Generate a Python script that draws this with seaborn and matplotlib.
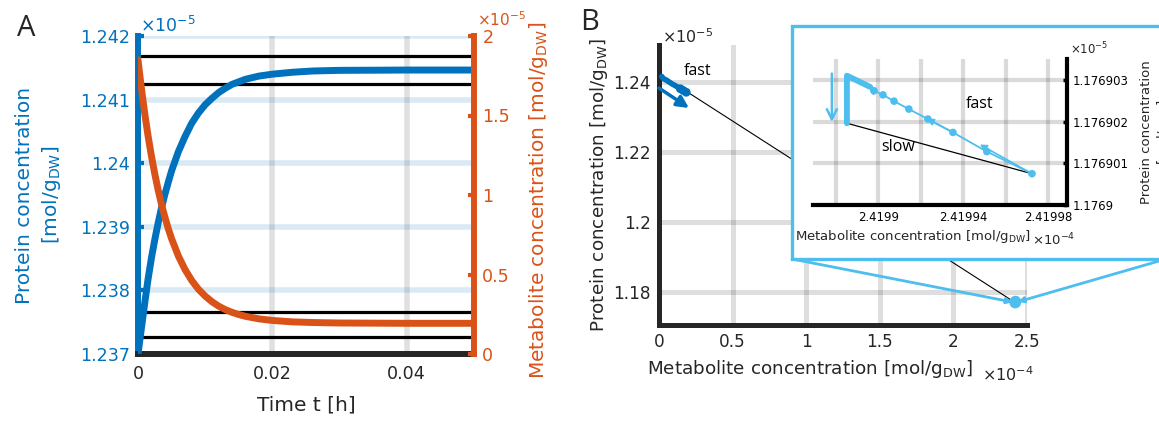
import matplotlib
matplotlib.use("Agg")
import matplotlib.pyplot as plt
import seaborn as sns
from matplotlib.patches import Rectangle, ConnectionPatch

sns.set_theme(style="white")
plt.rcParams['font.family'] = ['DejaVu Sans']
plt.rcParams['mathtext.fontset'] = 'dejavusans'

BLUE = '#0072BD'
ORANGE = '#D95319'
LBLUE = '#4DBEEE'
DARK = '#262626'

# ---------------- data (panel A) ----------------
time_protein = [0, 0.0005, 0.001, 0.0015, 0.002, 0.0025, 0.003, 0.0035, 0.004, 0.0045,
                0.005, 0.006, 0.007, 0.008, 0.009, 0.010, 0.011, 0.012, 0.013, 0.014,
                0.015, 0.016, 0.018, 0.020, 0.023, 0.026, 0.030, 0.035, 0.040, 0.050]
protein_A = [1.23700, 1.23740, 1.23780, 1.23818, 1.23851, 1.23880, 1.23906, 1.23930, 1.23951, 1.23970,
             1.23988, 1.24018, 1.24042, 1.24063, 1.24079, 1.24092, 1.24102, 1.24111, 1.24118, 1.24124,
             1.24128, 1.24132, 1.24137, 1.24140, 1.24143, 1.24145, 1.24146, 1.241462, 1.241465, 1.241465]
time_metab = [0, 0.0005, 0.001, 0.0015, 0.002, 0.0025, 0.003, 0.0035, 0.004, 0.0045,
              0.005, 0.006, 0.007, 0.008, 0.009, 0.010, 0.011, 0.012, 0.013, 0.014,
              0.015, 0.016, 0.018, 0.020, 0.023, 0.026, 0.030, 0.035, 0.040, 0.050]
metab_A = [1.850, 1.672, 1.513, 1.371, 1.245, 1.132, 1.031, 0.941, 0.861, 0.789,
           0.725, 0.617, 0.531, 0.462, 0.407, 0.364, 0.329, 0.301, 0.279, 0.262,
           0.248, 0.237, 0.221, 0.211, 0.202, 0.198, 0.195, 0.194, 0.193, 0.193]
band_levels = [1.241686, 1.241245, 1.237665, 1.237263]

A_xticks = [0, 0.02, 0.04]
A_xticklabels = ["0", "0.02", "0.04"]
A_lticks = [1.237, 1.238, 1.239, 1.24, 1.241, 1.242]
A_lticklabels = ["1.237", "1.238", "1.239", "1.24", "1.241", "1.242"]
A_rticks = [0, 0.5, 1, 1.5, 2]
A_rticklabels = ["0", "0.5", "1", "1.5", "2"]

# ---------------- data (panel B) ----------------
B_metab = [0.185, 0.16, 0.135, 0.11, 0.088, 0.07, 0.053, 0.038, 0.028, 0.022, 0.0193]
B_protein = [1.2370, 1.2377, 1.2383, 1.2389, 1.2394, 1.2399, 1.2404, 1.2407, 1.2410, 1.2413, 1.2415]
B_dot_metab = [0.185, 0.165, 0.145]
B_dot_protein = [1.2370, 1.2375, 1.2380]
B_slow_metab = [0.014, 2.4199]
B_slow_protein = [1.2419, 1.1769]
B_end_metab = [2.4199, 2.4215]
B_end_protein = [1.1769, 1.1772]
B_arrow_metab = [0.0, 0.204]
B_arrow_protein = [1.2382, 1.2325]

B_xticks = [0, 0.5, 1, 1.5, 2, 2.5]
B_xticklabels = ["0", "0.5", "1", "1.5", "2", "2.5"]
B_yticks = [1.18, 1.2, 1.22, 1.24]
B_yticklabels = ["1.18", "1.2", "1.22", "1.24"]

# ---------------- data (inset) ----------------
inset_fast_metab = [2.4199725, 2.4199512, 2.4199352, 2.4199234, 2.4199144,
                    2.4199074, 2.4199022, 2.4198979, 2.4198962]
inset_fast_protein = [1.17690075, 1.17690128, 1.17690174, 1.17690206, 1.17690230,
                      1.17690249, 1.17690264, 1.17690274, 1.17690283]
inset_thick_metab = [2.4198962, 2.4198852, 2.4198852]
inset_thick_protein = [1.17690283, 1.17690310, 1.17690196]
inset_black_metab = [2.4198852, 2.4199725]
inset_black_protein = [1.17690196, 1.17690075]
inset_head_metab = [2.4198962, 2.4199229, 2.4199479]
inset_head_protein = [1.17690283, 1.17690207, 1.17690145]
inset_tail_metab = [2.4198979, 2.4199352, 2.4199725]
inset_tail_protein = [1.17690274, 1.17690174, 1.17690075]
inset_down_metab = [2.4198781, 2.4198781]
inset_down_protein = [1.17690315, 1.17690199]

I_xticks = [2.41988, 2.4199, 2.41992, 2.41994, 2.41996, 2.41998]
I_xticklabels = ["", "2.4199", "", "2.41994", "", "2.41998"]
I_yticks = [1.1769, 1.176901, 1.176902, 1.176903]
I_yticklabels = ["1.1769", "1.176901", "1.176902", "1.176903"]

# ---------------- figure ----------------
W, H = 1159, 426
fig = plt.figure(figsize=(W / 100, H / 100), dpi=100)


def fx(px):
    return px / W


def fy(py):
    return 1 - py / H


# ================= Panel A =================
axA = fig.add_axes([fx(138), fy(354), (474 - 138) / W, (354 - 36) / H])
axA2 = axA.twinx()

for y in band_levels:
    axA.axhline(y, color='black', lw=2.3, zorder=2)
sns.lineplot(x=time_protein, y=protein_A, ax=axA, color=BLUE, lw=5,
             estimator=None, sort=False, zorder=3)
sns.lineplot(x=time_metab, y=metab_A, ax=axA2, color=ORANGE, lw=5,
             estimator=None, sort=False, zorder=3)

axA.set_xlim(0, 0.05)
axA.set_ylim(1.237, 1.242)
axA2.set_ylim(0, 2)
axA.set_xticks(A_xticks, A_xticklabels)
axA.set_yticks(A_lticks, A_lticklabels)
axA2.set_yticks(A_rticks, A_rticklabels)
axA.grid(True, axis='x', color='black', alpha=0.12, lw=4)
axA.grid(True, axis='y', color=BLUE, alpha=0.15, lw=4)
axA.set_axisbelow(True)
axA2.grid(False)

for s in ['top', 'right']:
    axA.spines[s].set_visible(False)
for s in ['top', 'left', 'bottom']:
    axA2.spines[s].set_visible(False)
axA.spines['left'].set_color(BLUE)
axA.spines['left'].set_linewidth(4.3)
axA.spines['bottom'].set_color(DARK)
axA.spines['bottom'].set_linewidth(4.3)
axA2.spines['right'].set_color(ORANGE)
axA2.spines['right'].set_linewidth(4.3)

axA.tick_params(axis='x', direction='in', length=4, width=3, colors=DARK, labelsize=12.6, pad=8)
axA.tick_params(axis='y', direction='in', length=4, width=3, colors=BLUE, labelsize=12.6, pad=6)
axA2.tick_params(axis='y', direction='in', length=4, width=3, colors=ORANGE, labelsize=12.6, pad=6)

axA.set_xlabel("Time t [h]", fontsize=14.5, color=DARK)
axA.xaxis.set_label_coords(0.5, -0.13)
axA.set_ylabel("Protein concentration\n[mol/g$_{\\mathrm{DW}}$]", fontsize=14.5,
               color=BLUE, linespacing=1.35)
axA.yaxis.set_label_coords(-0.222, 0.5)
axA2.set_ylabel("Metabolite concentration [mol/g$_{\\mathrm{DW}}$]", fontsize=14.5, color=ORANGE)
axA2.yaxis.set_label_coords(1.158, 0.484)

axA.text(0.006, 1.031, "×10$^{-5}$", color=BLUE, fontsize=12.5,
         transform=axA.transAxes, ha='left', va='center')
axA.text(1.008, 1.05, "×10$^{-5}$", color=ORANGE, fontsize=11,
         transform=axA.transAxes, ha='left', va='center')

fig.text(fx(26), fy(29), "A", fontsize=21, fontfamily='Open Sans', ha='center', va='center')
fig.text(fx(590), fy(23), "B", fontsize=21, fontfamily='Open Sans', ha='center', va='center')

# ================= Panel B =================
axB = fig.add_axes([fx(659), fy(325), (1027 - 659) / W, (325 - 45) / H])
sns.lineplot(x=B_slow_metab, y=B_slow_protein, ax=axB, color='black', lw=0.8,
             estimator=None, sort=False, zorder=2)
sns.lineplot(x=B_metab, y=B_protein, ax=axB, color=BLUE, lw=4,
             estimator=None, sort=False, zorder=3)
sns.scatterplot(x=B_dot_metab, y=B_dot_protein, ax=axB, color=BLUE, s=40,
                edgecolor='none', zorder=4)
sns.scatterplot(x=B_end_metab, y=B_end_protein, ax=axB, color=LBLUE, s=70,
                edgecolor='none', zorder=4)
axB.annotate('', xy=(B_arrow_metab[1], B_arrow_protein[1]),
             xytext=(B_arrow_metab[0], B_arrow_protein[0]),
             arrowprops=dict(arrowstyle='-|>,head_length=0.5,head_width=0.25', color=BLUE,
                             lw=2.5, mutation_scale=14, shrinkA=0, shrinkB=0), zorder=4)
axB.text(0.26, 1.2431, "fast", fontfamily='Open Sans', fontsize=11.5,
         ha='center', va='center', color='black')

axB.set_xlim(0, 2.5)
axB.set_ylim(1.1705, 1.2505)
axB.set_xticks(B_xticks, B_xticklabels)
axB.set_yticks(B_yticks, B_yticklabels)
axB.grid(True, color=DARK, alpha=0.15, lw=3.6)
axB.set_axisbelow(True)
for s in ['top', 'right']:
    axB.spines[s].set_visible(False)
for s in ['left', 'bottom']:
    axB.spines[s].set_color(DARK)
    axB.spines[s].set_linewidth(3.6)
axB.tick_params(direction='in', length=4, width=3, colors=DARK, labelsize=12.2, pad=6)
axB.set_xlabel("Metabolite concentration [mol/g$_{\\mathrm{DW}}$]", fontsize=13.2, color=DARK)
axB.xaxis.set_label_coords(0.41, -0.118)
axB.set_ylabel("Protein concentration [mol/g$_{\\mathrm{DW}}$]", fontsize=13.2, color=DARK)
axB.yaxis.set_label_coords(-0.133, 0.5)
axB.text(0.008, 1.03, "×10$^{-5}$", color=DARK, fontsize=11.5,
         transform=axB.transAxes, ha='left', va='center')
axB.text(0.878, -0.179, "×10$^{-4}$", color=DARK, fontsize=11.5,
         transform=axB.transAxes, ha='left', va='center')

# connectors and inset box
for cx in [fx(792), 1.006]:
    cp = ConnectionPatch(xyA=(cx, fy(259)), coordsA=fig.transFigure,
                         xyB=(B_end_metab[0], B_end_protein[0]), coordsB=axB.transData,
                         color=LBLUE, lw=2, arrowstyle='-|>', mutation_scale=8,
                         shrinkA=0, shrinkB=2)
    cp.set_zorder(1.5)
    fig.add_artist(cp)

box = Rectangle((fx(792), fy(259)), (1180 - 792) / W, (259 - 26) / H,
                transform=fig.transFigure, facecolor='white', edgecolor=LBLUE,
                lw=2.4, zorder=2)
fig.add_artist(box)

# ================= Inset =================
axI = fig.add_axes([fx(813), fy(205), (1067 - 813) / W, (205 - 59) / H], zorder=3)
axI.patch.set_alpha(0)
sns.lineplot(x=inset_black_metab, y=inset_black_protein, ax=axI, color='black', lw=0.9,
             estimator=None, sort=False, zorder=2)
sns.lineplot(x=inset_fast_metab, y=inset_fast_protein, ax=axI, color=LBLUE, lw=1.3,
             estimator=None, sort=False, zorder=3)
sns.lineplot(x=inset_thick_metab, y=inset_thick_protein, ax=axI, color=LBLUE, lw=4.2,
             estimator=None, sort=False, zorder=3)
sns.scatterplot(x=inset_fast_metab[:8], y=inset_fast_protein[:8], ax=axI, color=LBLUE,
                s=30, edgecolor='none', zorder=4)
for hx, hy, tx, ty in zip(inset_head_metab, inset_head_protein,
                          inset_tail_metab, inset_tail_protein):
    axI.annotate('', xy=(hx, hy), xytext=(tx, ty),
                 arrowprops=dict(arrowstyle='-|>', color=LBLUE, lw=1.2, mutation_scale=10,
                                 shrinkA=0, shrinkB=0), zorder=4)
axI.annotate('', xy=(inset_down_metab[1], inset_down_protein[1]),
             xytext=(inset_down_metab[0], inset_down_protein[0]),
             arrowprops=dict(arrowstyle='->,head_length=0.6,head_width=0.3', color=LBLUE,
                             lw=1.8, mutation_scale=12, shrinkA=0, shrinkB=0), zorder=4)
axI.text(2.4199479, 1.17690242, "fast", fontfamily='Open Sans', fontsize=11.5,
         ha='center', va='center', color='black')
axI.text(2.4199093, 1.17690138, "slow", fontfamily='Open Sans', fontsize=11.5,
         ha='center', va='center', color='black')

axI.set_xlim(2.4198692, 2.4199890)
axI.set_ylim(1.1769, 1.1769035)
axI.set_xticks(I_xticks, I_xticklabels)
axI.set_yticks(I_yticks, I_yticklabels)
axI.yaxis.tick_right()
axI.yaxis.set_label_position('right')
axI.grid(True, color=DARK, alpha=0.17, lw=3)
axI.set_axisbelow(True)
for s in ['top', 'left']:
    axI.spines[s].set_visible(False)
for s in ['right', 'bottom']:
    axI.spines[s].set_color('black')
    axI.spines[s].set_linewidth(3)
axI.tick_params(direction='in', length=3, width=2.5, colors='black', labelsize=8.4, pad=4)
axI.set_xlabel("Metabolite concentration [mol/g$_{\\mathrm{DW}}$]", fontsize=9.5, color=DARK)
axI.xaxis.set_label_coords(0.394, -0.158)
axI.set_ylabel("Protein concentration\n[mol/g$_{\\mathrm{DW}}$]", fontsize=9.5, color=DARK)
axI.yaxis.set_label_coords(1.287, 0.5)
axI.text(0.862, -0.24, "×10$^{-4}$", color=DARK, fontsize=9.5,
         transform=axI.transAxes, ha='left', va='center')
axI.text(1.012, 1.068, "×10$^{-5}$", color=DARK, fontsize=8.5,
         transform=axI.transAxes, ha='left', va='center')

fig.savefig("out.png", dpi=100)
